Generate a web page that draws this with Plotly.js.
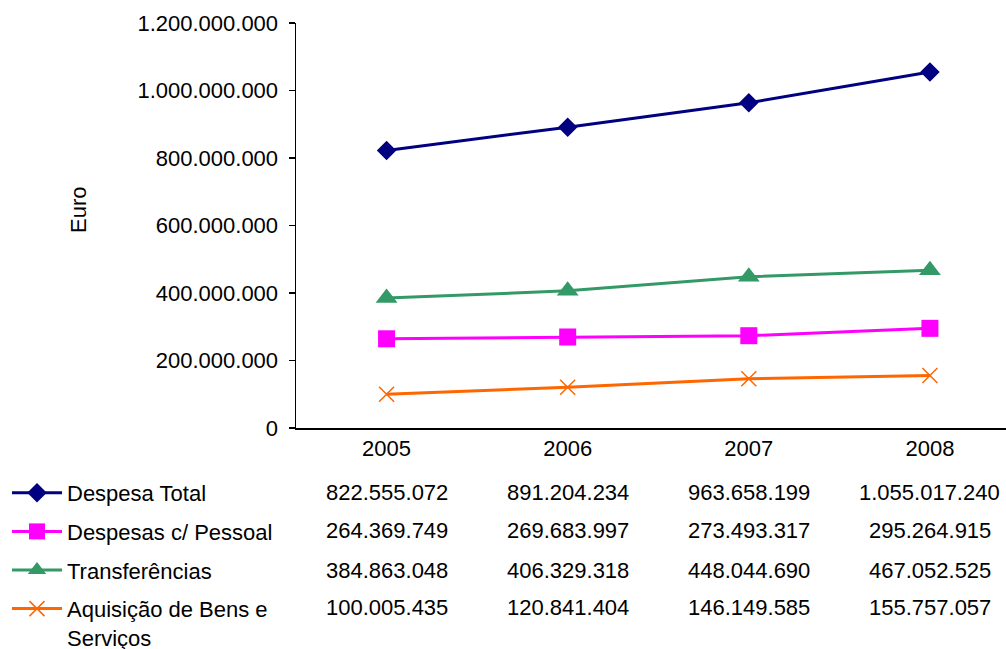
<!DOCTYPE html>
<html>
<head>
<meta charset="utf-8">
<script src="https://cdn.plot.ly/plotly-3.0.1.min.js"></script>
<style>html,body{margin:0;padding:0;background:#fff;}#chart{width:1006px;height:649px;}</style>
</head>
<body>
<div id="chart"></div>
<script>
var years = ['2005', '2006', '2007', '2008'];
var despesaTotal = [822555072, 891204234, 963658199, 1055017240];
var despesasPessoal = [264369749, 269683997, 273493317, 295264915];
var transferencias = [384863048, 406329318, 448044690, 467052525];
var aquisicaoBens = [100005435, 120841404, 146149585, 155757057];
var seriesNames = ['Despesa Total', 'Despesas c/ Pessoal', 'Transferências', 'Aquisição de Bens e<br>Serviços'];

var FONT = 'Liberation Sans, Arial, sans-serif';
var FS = 22;
var W = 1006, H = 649, L = 296, T = 23, B = 428;
function py(p) { return (B - p) / (B - T); }
function px(p) { return (p - L) / (W - L); }
function fmt(v) { return String(v).replace(/\B(?=(\d{3})+(?!\d))/g, '.'); }

var seriesData = [despesaTotal, despesasPessoal, transferencias, aquisicaoBens];
var colors = ['#000080', '#FF00FF', '#339966', '#FF6600'];
var symbols = ['diamond', 'square', 'triangle-up', 'x-thin-open'];
var sizes = [15, 17, 19, 15];

var traces = seriesData.map(function (d, i) {
  return {
    x: years, y: d, name: seriesNames[i], type: 'scatter', mode: 'lines+markers',
    legendgroup: 'g' + i,
    line: { color: colors[i], width: 3 },
    marker: { symbol: symbols[i], size: sizes[i], color: colors[i],
      line: { color: colors[i], width: i === 3 ? 1.5 : 0 } }
  };
});

var rowY = [492, 530, 570, 607];
var annotations = [];
seriesData.forEach(function (d, i) {
  d.forEach(function (v, j) {
    annotations.push({ x: j, xref: 'x', y: py(rowY[i]), yref: 'paper', text: fmt(v),
      showarrow: false, xanchor: 'center', yanchor: 'middle', font: { family: FONT, size: FS, color: '#000' } });
  });
});
annotations.push({ x: px(79), xref: 'paper', y: py(210), yref: 'paper', text: 'Euro',
  textangle: -90, showarrow: false, xanchor: 'center', yanchor: 'middle',
  font: { family: FONT, size: FS, color: '#000' } });

var layout = {
  width: W, height: H,
  margin: { l: L, r: 0, t: T, b: H - B, autoexpand: false },
  paper_bgcolor: '#fff', plot_bgcolor: '#fff',
  separators: ',.',
  font: { family: FONT, size: FS, color: '#000' },
  showlegend: true,
  legend: { x: px(7), xanchor: 'left', y: py(472), yanchor: 'top',
    traceorder: 'grouped', tracegroupgap: 7, valign: 'top', itemwidth: 50,
    font: { family: FONT, size: FS, color: '#000' }, bgcolor: 'rgba(0,0,0,0)' },
  xaxis: { type: 'category', range: [-0.5, 3.42], showline: true, linecolor: '#000', linewidth: 1.5,
    showgrid: false, zeroline: false, ticks: '', tickfont: { family: FONT, size: FS }, fixedrange: true },
  yaxis: { range: [0, 1200000000], dtick: 200000000, tickformat: ',d', showline: true, linecolor: '#000', linewidth: 1.5,
    ticks: 'outside', ticklen: 6, tickcolor: '#000', tickwidth: 1.5, showgrid: false, zeroline: false,
    ticklabelstandoff: 6, tickfont: { family: FONT, size: FS }, fixedrange: true },
  annotations: annotations
};

Plotly.newPlot('chart', traces, layout, { displayModeBar: false, staticPlot: true });
</script>
</body>
</html>
